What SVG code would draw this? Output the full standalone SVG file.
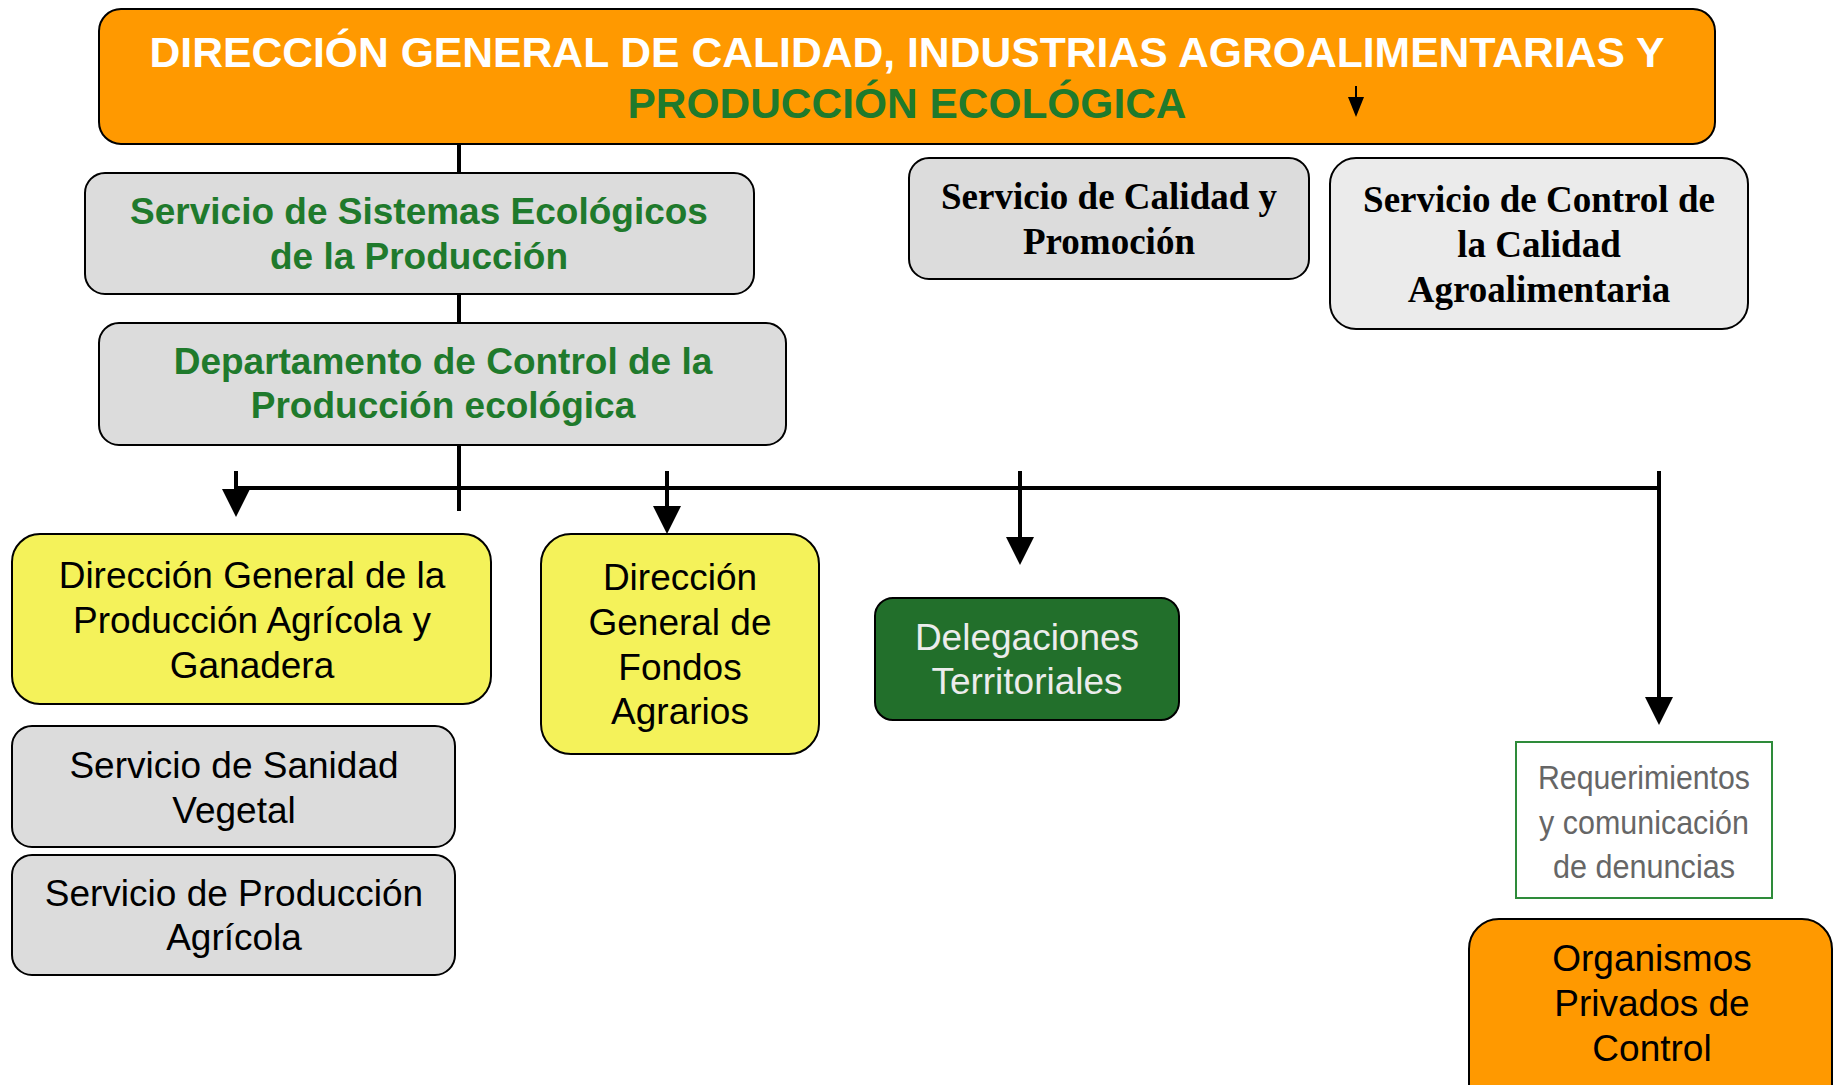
<svg xmlns="http://www.w3.org/2000/svg" width="1834" height="1085" viewBox="0 0 1834 1085">
<style>
.box{stroke:#000;stroke-width:2}
.gray{fill:#dcdcdc}
.light{fill:#ebebeb}
.orange{fill:#ff9900}
.yellow{fill:#f4f25a}
.dgreen{fill:#226f2b}
.t{font-family:"Liberation Sans",Arial,sans-serif;text-anchor:middle}
.b{font-weight:bold}
.serif{font-family:"Liberation Serif","Times New Roman",serif;font-weight:bold;text-anchor:middle;font-size:37px;fill:#000}
.green{fill:#1f7a2c}
.conn{stroke:#000;stroke-width:4;fill:none}
</style>
<defs>
<marker id="ah" markerUnits="userSpaceOnUse" markerWidth="28" markerHeight="28" viewBox="0 0 28 28" refX="0" refY="14" orient="auto">
<path d="M0,0 L28,14 L0,28 z" fill="#000"/>
</marker>
<marker id="ahs" markerUnits="userSpaceOnUse" markerWidth="20" markerHeight="16" viewBox="0 0 20 16" refX="0" refY="8" orient="auto">
<path d="M0,0 L20,8 L0,16 z" fill="#000"/>
</marker>
</defs>
<rect width="1834" height="1085" fill="#fff"/>

<g id="connectors">
<line class="conn" x1="459" y1="144" x2="459" y2="173"/>
<line class="conn" x1="459" y1="294" x2="459" y2="323"/>
<line class="conn" x1="459" y1="445" x2="459" y2="511"/>
<line class="conn" x1="236" y1="488" x2="1661" y2="488"/>
<line class="conn" x1="236" y1="471" x2="236" y2="489" marker-end="url(#ah)"/>
<line class="conn" x1="667" y1="471" x2="667" y2="506" marker-end="url(#ah)"/>
<line class="conn" x1="1020" y1="471" x2="1020" y2="537" marker-end="url(#ah)"/>
<line class="conn" x1="1659" y1="471" x2="1659" y2="697" marker-end="url(#ah)"/>
</g>

<g id="n-direccion-general">
<rect class="box orange" x="99" y="9" width="1616" height="135" rx="22"/>
<text class="t b" x="907" y="67" font-size="42" fill="#fff" textLength="1515" lengthAdjust="spacingAndGlyphs">DIRECCIÓN GENERAL DE CALIDAD, INDUSTRIAS AGROALIMENTARIAS Y</text>
<text class="t b green" x="907" y="118" font-size="42" textLength="559" lengthAdjust="spacingAndGlyphs">PRODUCCIÓN ECOLÓGICA</text>
<line x1="1356" y1="86" x2="1356" y2="97" stroke="#000" stroke-width="2" marker-end="url(#ahs)"/>
</g>

<g id="n-servicio-sistemas">
<rect class="box gray" x="85" y="173" width="669" height="121" rx="20"/>
<text class="t b green" x="419" y="224" font-size="37">Servicio de Sistemas Ecológicos</text>
<text class="t b green" x="419" y="269" font-size="37">de la Producción</text>
</g>

<g id="n-departamento">
<rect class="box gray" x="99" y="323" width="687" height="122" rx="20"/>
<text class="t b green" x="443" y="374" font-size="37">Departamento de Control de la</text>
<text class="t b green" x="443" y="418" font-size="37">Producción ecológica</text>
</g>

<g id="n-servicio-calidad">
<rect class="box gray" x="909" y="158" width="400" height="121" rx="20"/>
<text class="serif" x="1109" y="209">Servicio de Calidad y</text>
<text class="serif" x="1109" y="254">Promoción</text>
</g>

<g id="n-servicio-control">
<rect class="box light" x="1330" y="158" width="418" height="171" rx="26"/>
<text class="serif" x="1539" y="212">Servicio de Control de</text>
<text class="serif" x="1539" y="257">la Calidad</text>
<text class="serif" x="1539" y="302">Agroalimentaria</text>
</g>

<g id="n-dg-produccion-agricola">
<rect class="box yellow" x="12" y="534" width="479" height="170" rx="28"/>
<text class="t" x="252" y="588" font-size="37" fill="#000">Dirección General de la</text>
<text class="t" x="252" y="633" font-size="37" fill="#000">Producción Agrícola y</text>
<text class="t" x="252" y="678" font-size="37" fill="#000">Ganadera</text>
</g>

<g id="n-dg-fondos">
<rect class="box yellow" x="541" y="534" width="278" height="220" rx="30"/>
<text class="t" x="680" y="590" font-size="37" fill="#000">Dirección</text>
<text class="t" x="680" y="635" font-size="37" fill="#000">General de</text>
<text class="t" x="680" y="680" font-size="37" fill="#000">Fondos</text>
<text class="t" x="680" y="724" font-size="37" fill="#000">Agrarios</text>
</g>

<g id="n-sanidad-vegetal">
<rect class="box gray" x="12" y="726" width="443" height="121" rx="20"/>
<text class="t" x="234" y="778" font-size="37" fill="#000">Servicio de Sanidad</text>
<text class="t" x="234" y="823" font-size="37" fill="#000">Vegetal</text>
</g>

<g id="n-produccion-agricola">
<rect class="box gray" x="12" y="855" width="443" height="120" rx="20"/>
<text class="t" x="234" y="906" font-size="37" fill="#000">Servicio de Producción</text>
<text class="t" x="234" y="950" font-size="37" fill="#000">Agrícola</text>
</g>

<g id="n-delegaciones">
<rect class="box dgreen" x="875" y="598" width="304" height="122" rx="18"/>
<text class="t" x="1027" y="650" font-size="37" fill="#ececec">Delegaciones</text>
<text class="t" x="1027" y="694" font-size="37" fill="#ececec">Territoriales</text>
</g>

<g id="n-requerimientos">
<rect x="1516" y="742" width="256" height="156" fill="#fff" stroke="#2e8b3a" stroke-width="2"/>
<text class="t" x="1644" y="789" font-size="33" fill="#666" textLength="212" lengthAdjust="spacingAndGlyphs">Requerimientos</text>
<text class="t" x="1644" y="834" font-size="33" fill="#666" textLength="210" lengthAdjust="spacingAndGlyphs">y comunicación</text>
<text class="t" x="1644" y="878" font-size="33" fill="#666" textLength="182" lengthAdjust="spacingAndGlyphs">de denuncias</text>
</g>

<g id="n-organismos">
<rect class="box orange" x="1469" y="919" width="363" height="200" rx="30"/>
<text class="t" x="1652" y="971" font-size="37" fill="#000">Organismos</text>
<text class="t" x="1652" y="1016" font-size="37" fill="#000">Privados de</text>
<text class="t" x="1652" y="1061" font-size="37" fill="#000">Control</text>
</g>
</svg>
